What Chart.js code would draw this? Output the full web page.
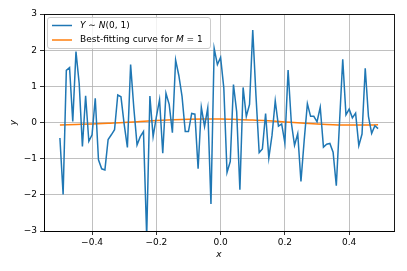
<!DOCTYPE html>
<html>
<head>
<meta charset="utf-8">
<script src="https://cdn.jsdelivr.net/npm/chart.js@4/dist/chart.umd.min.js"></script>
<style>
html,body{margin:0;padding:0;background:#fff;}
canvas{display:block;}
</style>
</head>
<body>
<canvas id="c" width="407" height="271"></canvas>
<script>
// ---- data ----
const xValues = [
 -0.50,-0.49,-0.48,-0.47,-0.46,-0.45,-0.44,-0.43,-0.42,-0.41,
 -0.40,-0.39,-0.38,-0.37,-0.36,-0.35,-0.34,-0.33,-0.32,-0.31,
 -0.30,-0.29,-0.28,-0.27,-0.26,-0.25,-0.24,-0.23,-0.22,-0.21,
 -0.20,-0.19,-0.18,-0.17,-0.16,-0.15,-0.14,-0.13,-0.12,-0.11,
 -0.10,-0.09,-0.08,-0.07,-0.06,-0.05,-0.04,-0.03,-0.02,-0.01,
  0.00, 0.01, 0.02, 0.03, 0.04, 0.05, 0.06, 0.07, 0.08, 0.09,
  0.10, 0.11, 0.12, 0.13, 0.14, 0.15, 0.16, 0.17, 0.18, 0.19,
  0.20, 0.21, 0.22, 0.23, 0.24, 0.25, 0.26, 0.27, 0.28, 0.29,
  0.30, 0.31, 0.32, 0.33, 0.34, 0.35, 0.36, 0.37, 0.38, 0.39,
  0.40, 0.41, 0.42, 0.43, 0.44, 0.45, 0.46, 0.47, 0.48, 0.49
];
const yNoise = [
 -0.43,-1.99, 1.44, 1.52, 0.03, 1.96, 1.08,-0.66, 0.74,-0.52,
 -0.34, 0.67,-1.03,-1.28,-1.31,-0.47,-0.34,-0.20, 0.76, 0.71,
 -0.05,-0.69, 1.60, 0.40,-0.62,-0.39,-0.25,-3.15, 0.73,-0.39,
  0.15, 0.63,-0.85, 0.81, 0.50,-0.28, 1.73, 1.30, 0.72,-0.25,
 -0.25, 0.25, 0.23,-1.28, 0.42,-0.11, 0.40,-2.25, 2.05, 1.60,
  1.80, 0.95,-1.38,-1.08, 1.05, 0.30,-1.86, 0.97, 0.17, 0.50,
  2.56, 0.75,-0.83,-0.73, 0.25,-0.98,-0.35, 0.60,-0.10,-0.04,
 -0.57, 1.45, 0.00,-0.63,-0.31,-1.63,-0.50, 0.52, 0.17, 0.17,
  0.02, 0.42,-0.68,-0.60,-0.58,-0.82,-1.75, 0.00, 1.75, 0.21,
  0.37, 0.13, 0.26,-0.64,-0.32, 1.50, 0.17,-0.30,-0.09,-0.17
];
const fitX = [-0.50,-0.45,-0.40,-0.35,-0.30,-0.25,-0.20,-0.15,-0.10,-0.05,0.00,0.05,0.10,0.15,0.20,0.25,0.30,0.35,0.40,0.45,0.49];
const fitY = [-0.07,-0.055,-0.04,-0.02,0.00,0.03,0.055,0.075,0.09,0.095,0.095,0.085,0.07,0.045,0.015,-0.015,-0.04,-0.06,-0.07,-0.07,-0.065];

const xTickValues = [-0.4,-0.2,0.0,0.2,0.4];
const xTickLabels = ["\u22120.4","\u22120.2","0.0","0.2","0.4"];
const yTickValues = [-3,-2,-1,0,1,2,3];
const yTickLabels = ["\u22123","\u22122","\u22121","0","1","2","3"];

const legendSeg1 = [["Y",true],[" \u223C ",false],["N",true],["(0, 1)",false]];
const legendSeg2 = [["Best-fitting curve for ",false],["M",true],[" = 1",false]];

const BLUE = "#1f77b4", ORANGE = "#ff7f0e";
const FONT = "'DejaVu Sans', sans-serif";

const noisePts = xValues.map((x,i)=>({x:x,y:yNoise[i]}));
const fitPts = fitX.map((x,i)=>({x:x,y:fitY[i]}));

const framePlugin = {
  id:'frame',
  afterDatasetsDraw(chart){
    const a = chart.chartArea, ctx = chart.ctx;
    ctx.save();
    ctx.strokeStyle = '#000';
    ctx.lineWidth = 0.9;
    ctx.strokeRect(Math.round(a.left)+0.5, Math.round(a.top)+0.5, Math.round(a.right-a.left), Math.round(a.bottom-a.top));
    ctx.restore();
  }
};

const legendPlugin = {
  id:'customLegend',
  afterDraw(chart){
    const ctx = chart.ctx;
    const bx = 47.5, by = 17.5, bw = 163, bh = 31, r = 2.5;
    ctx.save();
    ctx.beginPath();
    ctx.moveTo(bx+r,by);
    ctx.lineTo(bx+bw-r,by); ctx.arcTo(bx+bw,by,bx+bw,by+r,r);
    ctx.lineTo(bx+bw,by+bh-r); ctx.arcTo(bx+bw,by+bh,bx+bw-r,by+bh,r);
    ctx.lineTo(bx+r,by+bh); ctx.arcTo(bx,by+bh,bx,by+bh-r,r);
    ctx.lineTo(bx,by+r); ctx.arcTo(bx,by,bx+r,by,r);
    ctx.closePath();
    ctx.fillStyle = 'rgba(255,255,255,0.8)';
    ctx.fill();
    ctx.strokeStyle = '#cccccc';
    ctx.lineWidth = 1;
    ctx.stroke();
    const rows = [[legendSeg1, BLUE, 25.5],[legendSeg2, ORANGE, 40]];
    rows.forEach(([segs,col,y])=>{
      ctx.beginPath();
      ctx.moveTo(52,y); ctx.lineTo(72,y);
      ctx.strokeStyle = col; ctx.lineWidth = 1.5; ctx.stroke();
      let x = 80;
      ctx.fillStyle = '#000';
      ctx.textBaseline = 'middle';
      segs.forEach(([t,it])=>{
        ctx.font = (it?'italic ':'') + '9px ' + FONT;
        ctx.fillText(t,x,y);
        x += ctx.measureText(t).width;
      });
    });
    ctx.restore();
  }
};

new Chart(document.getElementById('c'),{
  type:'line',
  data:{
    datasets:[
      {label:'Y ~ N(0,1)', data:noisePts, borderColor:BLUE, borderWidth:1.5, pointRadius:0, tension:0, fill:false},
      {label:'Best-fitting curve for M = 1', data:fitPts, borderColor:ORANGE, borderWidth:1.5, pointRadius:0, tension:0.4, cubicInterpolationMode:'monotone', fill:false}
    ]
  },
  options:{
    responsive:false,
    animation:false,
    devicePixelRatio:1,
    layout:{padding:{top:14,right:13,left:8,bottom:11}},
    plugins:{legend:{display:false},tooltip:{enabled:false}},
    scales:{
      x:{
        type:'linear', min:-0.5495, max:0.5395,
        afterBuildTicks(s){ s.ticks = xTickValues.map(v=>({value:v})); },
        afterFit(s){ s.height = 29; },
        ticks:{ color:'#000', font:{family:FONT,size:9}, padding:2, maxRotation:0,
          callback:(v)=>{ const i = xTickValues.findIndex(t=>Math.abs(t-v)<1e-9); return i>=0?xTickLabels[i]:''; } },
        grid:{ color:'#b0b0b0', lineWidth:0.8, tickColor:'#000', tickLength:4, tickWidth:0.8 },
        border:{ display:true, color:'#000', width:0.9 },
        title:{ display:true, text:'x', color:'#000', font:{family:FONT,size:9,style:'italic'}, padding:{top:1,bottom:0} }
      },
      y:{
        min:-3, max:3,
        afterBuildTicks(s){ s.ticks = yTickValues.map(v=>({value:v})); },
        afterFit(s){ s.width = 36; },
        ticks:{ color:'#000', font:{family:FONT,size:9}, padding:3,
          callback:(v)=>{ const i = yTickValues.indexOf(v); return i>=0?yTickLabels[i]:''; } },
        grid:{ color:'#b0b0b0', lineWidth:0.8, tickColor:'#000', tickLength:4, tickWidth:0.8 },
        border:{ display:true, color:'#000', width:0.9 },
        title:{ display:true, text:'y', color:'#000', font:{family:FONT,size:9,style:'italic'}, padding:{top:0,bottom:8} }
      }
    }
  },
  plugins:[framePlugin, legendPlugin]
});
</script>
</body>
</html>
